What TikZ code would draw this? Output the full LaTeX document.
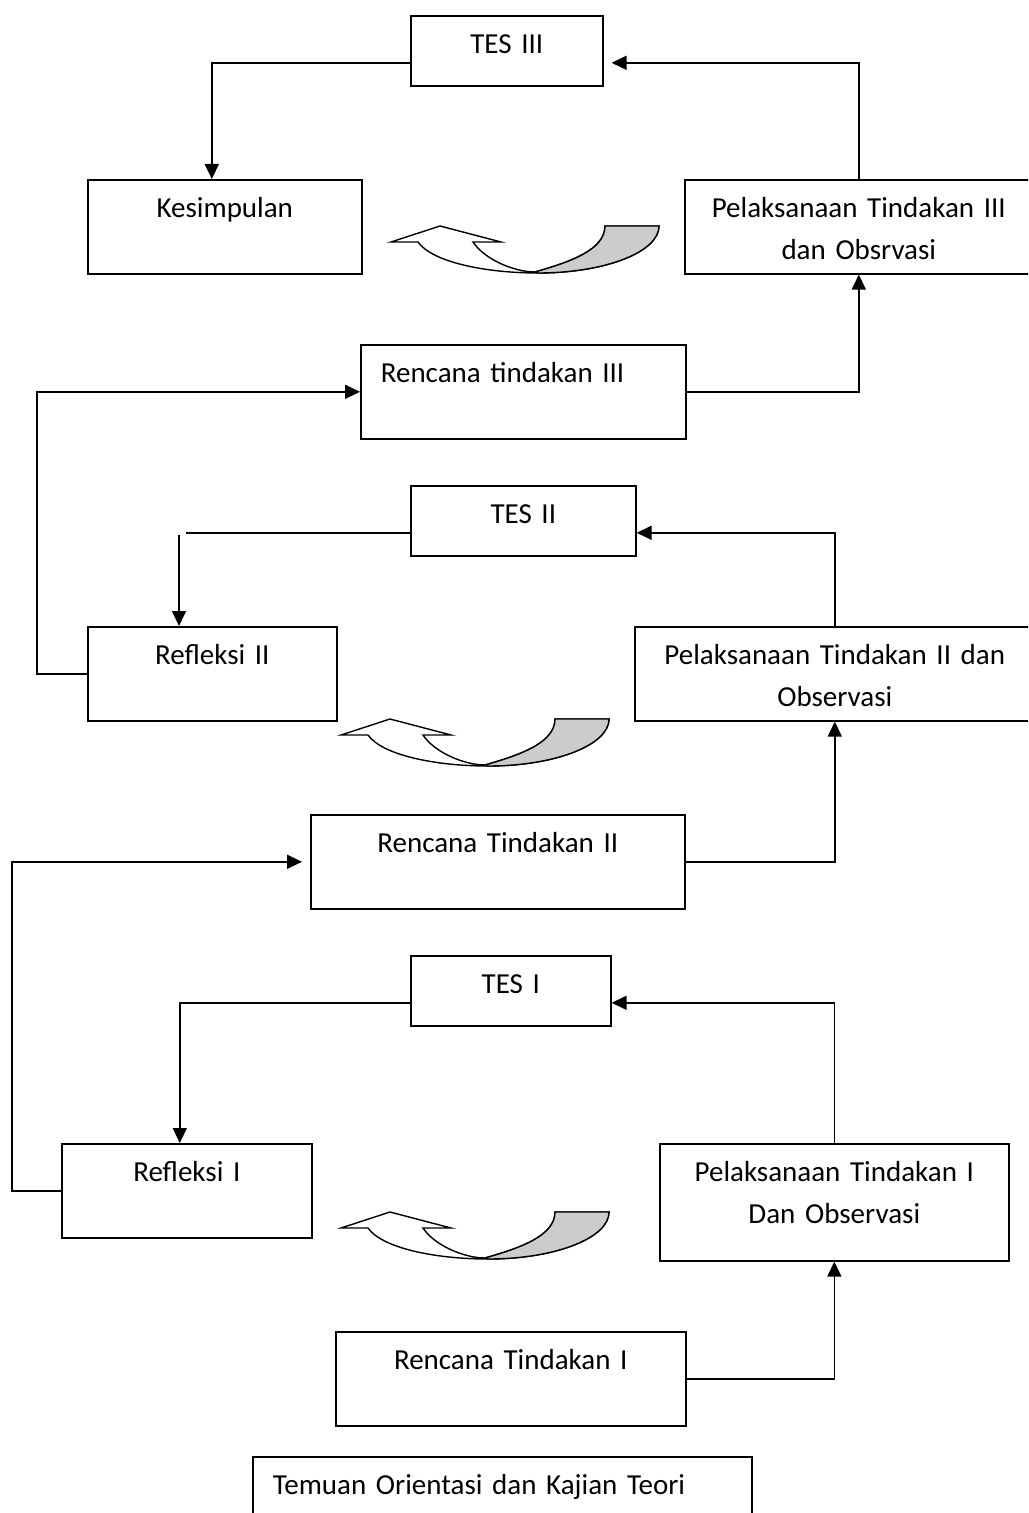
\documentclass[tikz,border=0pt]{standalone}
\usepackage{fontspec}
\setmainfont{Carlito}
\usetikzlibrary{arrows.meta}

\tikzset{
  box/.style={draw, line width=0.8pt, anchor=north west, inner xsep=0pt, inner ysep=0pt,
    align=center, text height=19pt, font=\fontsize{14.5}{21}\selectfont},
  leftbox/.style={box, align=left, inner xsep=10pt},
  link/.style={line width=0.8pt, -{Triangle[length=7.5pt,width=7pt]}},
  plain/.style={line width=0.7pt}
}

\begin{document}
\begin{tikzpicture}[x=0.5pt, y=-0.5pt]
		\useasboundingbox (0,0) rectangle (1028,1513);
		\clip (0,0) rectangle (1028,1513);
		% cycle III
		\node[box, text width=96pt, text depth=16pt] (tes3) at (410,15) {TES III};
		\node[box, text width=137pt, text depth=28pt] (kes) at (87,179) {Kesimpulan};
		\node[box, text width=174pt, text depth=28pt] (pel3) at (684,179) {Pelaksanaan Tindakan III\\dan Obsrvasi};
		\node[leftbox, text width=142.5pt, text depth=28pt] (ren3) at (360,344) {Rencana tindakan III};
		% cycle II
		\node[box, text width=112.5pt, text depth=16pt] (tes2) at (410,485) {TES II};
		\node[box, text width=124.5pt, text depth=28pt] (ref2) at (87,626) {Refleksi II};
		\node[box, text width=200pt, text depth=28pt] (pel2) at (634,626) {Pelaksanaan Tindakan II dan\\Observasi};
		\node[box, text width=187pt, text depth=28pt] (ren2) at (310,814) {Rencana Tindakan II};
		% cycle I
		\node[box, text width=100pt, text depth=16pt] (tes1) at (410,955) {TES I};
		\node[box, text width=125pt, text depth=28pt] (ref1) at (61,1143) {Refleksi I};
		\node[box, text width=174.5pt, text depth=39.5pt] (pel1) at (659,1143) {Pelaksanaan Tindakan I\\Dan Observasi};
		\node[box, text width=175pt, text depth=28pt] (ren1) at (335,1331) {Rencana Tindakan I};
		\node[leftbox, text width=229.5pt, text depth=28pt] (temuan) at (252,1456) {Temuan Orientasi dan Kajian Teori};
		\coordinate (bend2) at (179,535);

		\draw[link, shorten >=4pt] (pel3.north) |- ([yshift=-6pt]tes3.east);
		\draw[link] ([yshift=-6pt]tes3.west) -| ([xshift=-6.5pt]kes.north);
		\draw[link] (ref2.west) -- ++(-50,0) |- (ren3.west);
		\draw[link] (ren3.east) -| (pel3.south);
		\draw[link] (pel2.north) |- ([yshift=-6pt]tes2.east);
		\draw[line width=0.8pt] ([yshift=-6pt]tes2.west) -- ++(-224,0);
		\draw[link] (bend2) -- (bend2 |- ref2.north);
		\draw[link] (ren2.east) -| (pel2.south);
		\draw[link, shorten >=4pt] (ref1.west) -- ++(-49,0) |- (ren2.west);
		\draw[link] (pel1.north) |- ([yshift=-6pt]tes1.east);
		\draw[link] ([yshift=-6pt]tes1.west) -| ([xshift=-3.5pt]ref1.north);
		\draw[link] (ren1.east) -| (pel1.south);

		% curved arrows
		\foreach \dx/\dy in {0/0, -50/493, -50/986}
		{
			\begin{scope}[shift={(\dx,\dy)}]
				\draw[plain, fill=white] (391,242) -- (440,226) -- (501,242) -- (473,242)
					.. controls (485,260) and (515,272) .. (535,272)
					.. controls (570,262) and (605,250) .. (605,226) -- (659,226)
					.. controls (659,252) and (605,273) .. (538,273)
					.. controls (485,273) and (432,262) .. (418,242) -- cycle;
				\draw[plain, fill=black!20] (535,272)
					.. controls (570,262) and (605,250) .. (605,226) -- (659,226)
					.. controls (659,252) and (605,273) .. (538,273) -- cycle;
			\end{scope}
		}
	\end{tikzpicture}
\end{document}
